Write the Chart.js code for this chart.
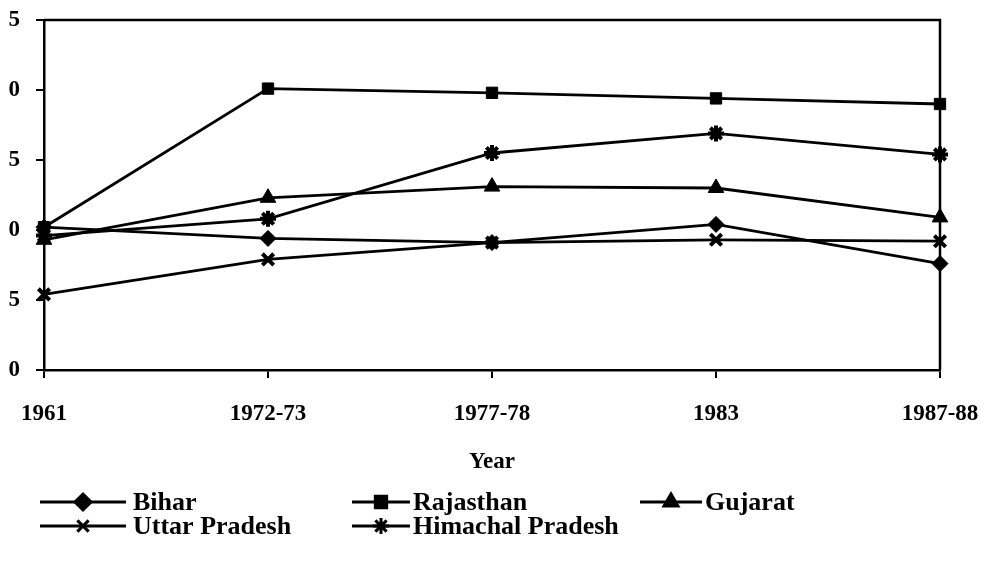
<!DOCTYPE html>
<html>
<head>
<meta charset="utf-8">
<script src="https://cdn.jsdelivr.net/npm/chart.js@4"></script>
<style>
  html, body { margin: 0; padding: 0; background: #fff; }
  #wrap { width: 996px; height: 568px; }
</style>
</head>
<body>
<div id="wrap"><canvas id="grafico" width="996" height="568"></canvas></div>
<script>
// datos
const years = ["1961", "1972-73", "1977-78", "1983", "1987-88"];
const bihar = [10.2, 9.4, 9.1, 10.4, 7.6];
const rajasthan = [10.2, 20.1, 19.8, 19.4, 19.0];
const gujarat = [9.3, 12.3, 13.1, 13.0, 10.9];
const uttarPradesh = [5.4, 7.9, 9.1, 9.3, 9.2];
const himachal = [9.6, 10.8, 15.5, 16.9, 15.4];
const yTickLabels = ["0", "5", "0", "5", "0", "5"];

const FONT = "'Liberation Serif', 'DejaVu Serif', serif";
const ctx = document.getElementById("grafico").getContext("2d");

function serie(label, data, style, radius) {
  const cruz = style === "crossRot" || style === "star";
  return {
    label: label,
    data: data,
    borderColor: "#000",
    backgroundColor: "#000",
    borderWidth: 2.8,
    pointStyle: style,
    pointRadius: radius,
    pointBorderWidth: cruz ? 4 : 1,
    pointBorderColor: "#000",
    pointBackgroundColor: "#000",
    tension: 0,
    fill: false,
  };
}

// Leyenda dibujada a mano (dos filas, como la original)
const leyenda = {
  id: "leyenda",
  afterDraw(chart) {
    const c = chart.ctx;
    const pos = [
      { x1: 40, x2: 126, y: 502, tx: 133 },
      { x1: 352, x2: 410, y: 502, tx: 413 },
      { x1: 640, x2: 702, y: 502, tx: 705 },
      { x1: 40, x2: 126, y: 526, tx: 133 },
      { x1: 352, x2: 410, y: 526, tx: 413 },
    ];
    c.save();
    chart.data.datasets.forEach((ds, i) => {
      const p = pos[i];
      c.strokeStyle = "#000";
      c.lineWidth = 3;
      c.beginPath();
      c.moveTo(p.x1, p.y);
      c.lineTo(p.x2, p.y);
      c.stroke();
      Chart.helpers.drawPoint(c, {
        pointStyle: ds.pointStyle,
        radius: 8,
        borderWidth: ds.pointBorderWidth,
        rotation: 0,
      }, (p.x1 + p.x2) / 2, p.y);
      c.fillStyle = "#000";
      c.font = "bold 26px " + FONT;
      c.textBaseline = "middle";
      c.textAlign = "left";
      c.fillText(ds.label, p.tx, p.y + 1);
    });
    c.restore();
  },
  beforeDatasetsDraw(chart) {
    // marco superior y derecho
    const a = chart.chartArea;
    const c = chart.ctx;
    c.save();
    c.strokeStyle = "#000";
    c.lineWidth = 2.5;
    c.beginPath();
    c.moveTo(a.left, a.top);
    c.lineTo(a.right, a.top);
    c.lineTo(a.right, a.bottom);
    c.stroke();
    c.restore();
  },
};

const myChart = new Chart(ctx, {
  type: "line",
  data: {
    labels: years,
    datasets: [
      serie("Bihar", bihar, "rectRot", 8),
      serie("Rajasthan", rajasthan, "rect", 8),
      serie("Gujarat", gujarat, "triangle", 9),
      serie("Uttar Pradesh", uttarPradesh, "crossRot", 8),
      serie("Himachal Pradesh", himachal, "star", 8),
    ],
  },
  options: {
    responsive: false,
    animation: false,
    layout: { padding: { top: 20, right: 56, bottom: 88, left: 0 } },
    plugins: {
      legend: { display: false },
      tooltip: { enabled: false },
    },
    scales: {
      x: {
        offset: false,
        border: { color: "#000", width: 2.5 },
        grid: { drawOnChartArea: false, color: "#000", lineWidth: 2, tickLength: 8 },
        ticks: {
          color: "#000",
          font: { family: FONT, size: 23, weight: "bold" },
          padding: 22,
          maxRotation: 0,
        },
        title: {
          display: true,
          text: "Year",
          color: "#000",
          font: { family: FONT, size: 23, weight: "bold" },
          padding: { top: 16 },
        },
        afterFit(scale) {
          scale.height = 110;
          scale.paddingLeft = 0;
          scale.paddingRight = 0;
        },
      },
      y: {
        min: 0,
        max: 25,
        border: { color: "#000", width: 2.5 },
        grid: { drawOnChartArea: false, color: "#000", lineWidth: 2, tickLength: 8 },
        ticks: {
          stepSize: 5,
          color: "#000",
          font: { family: FONT, size: 23, weight: "bold" },
          padding: 16,
          callback: (v, i) => yTickLabels[i],
        },
        afterFit(scale) {
          scale.width = 44;
          scale.paddingTop = 0;
          scale.paddingBottom = 0;
        },
      },
    },
  },
  plugins: [leyenda],
});
</script>
</body>
</html>
